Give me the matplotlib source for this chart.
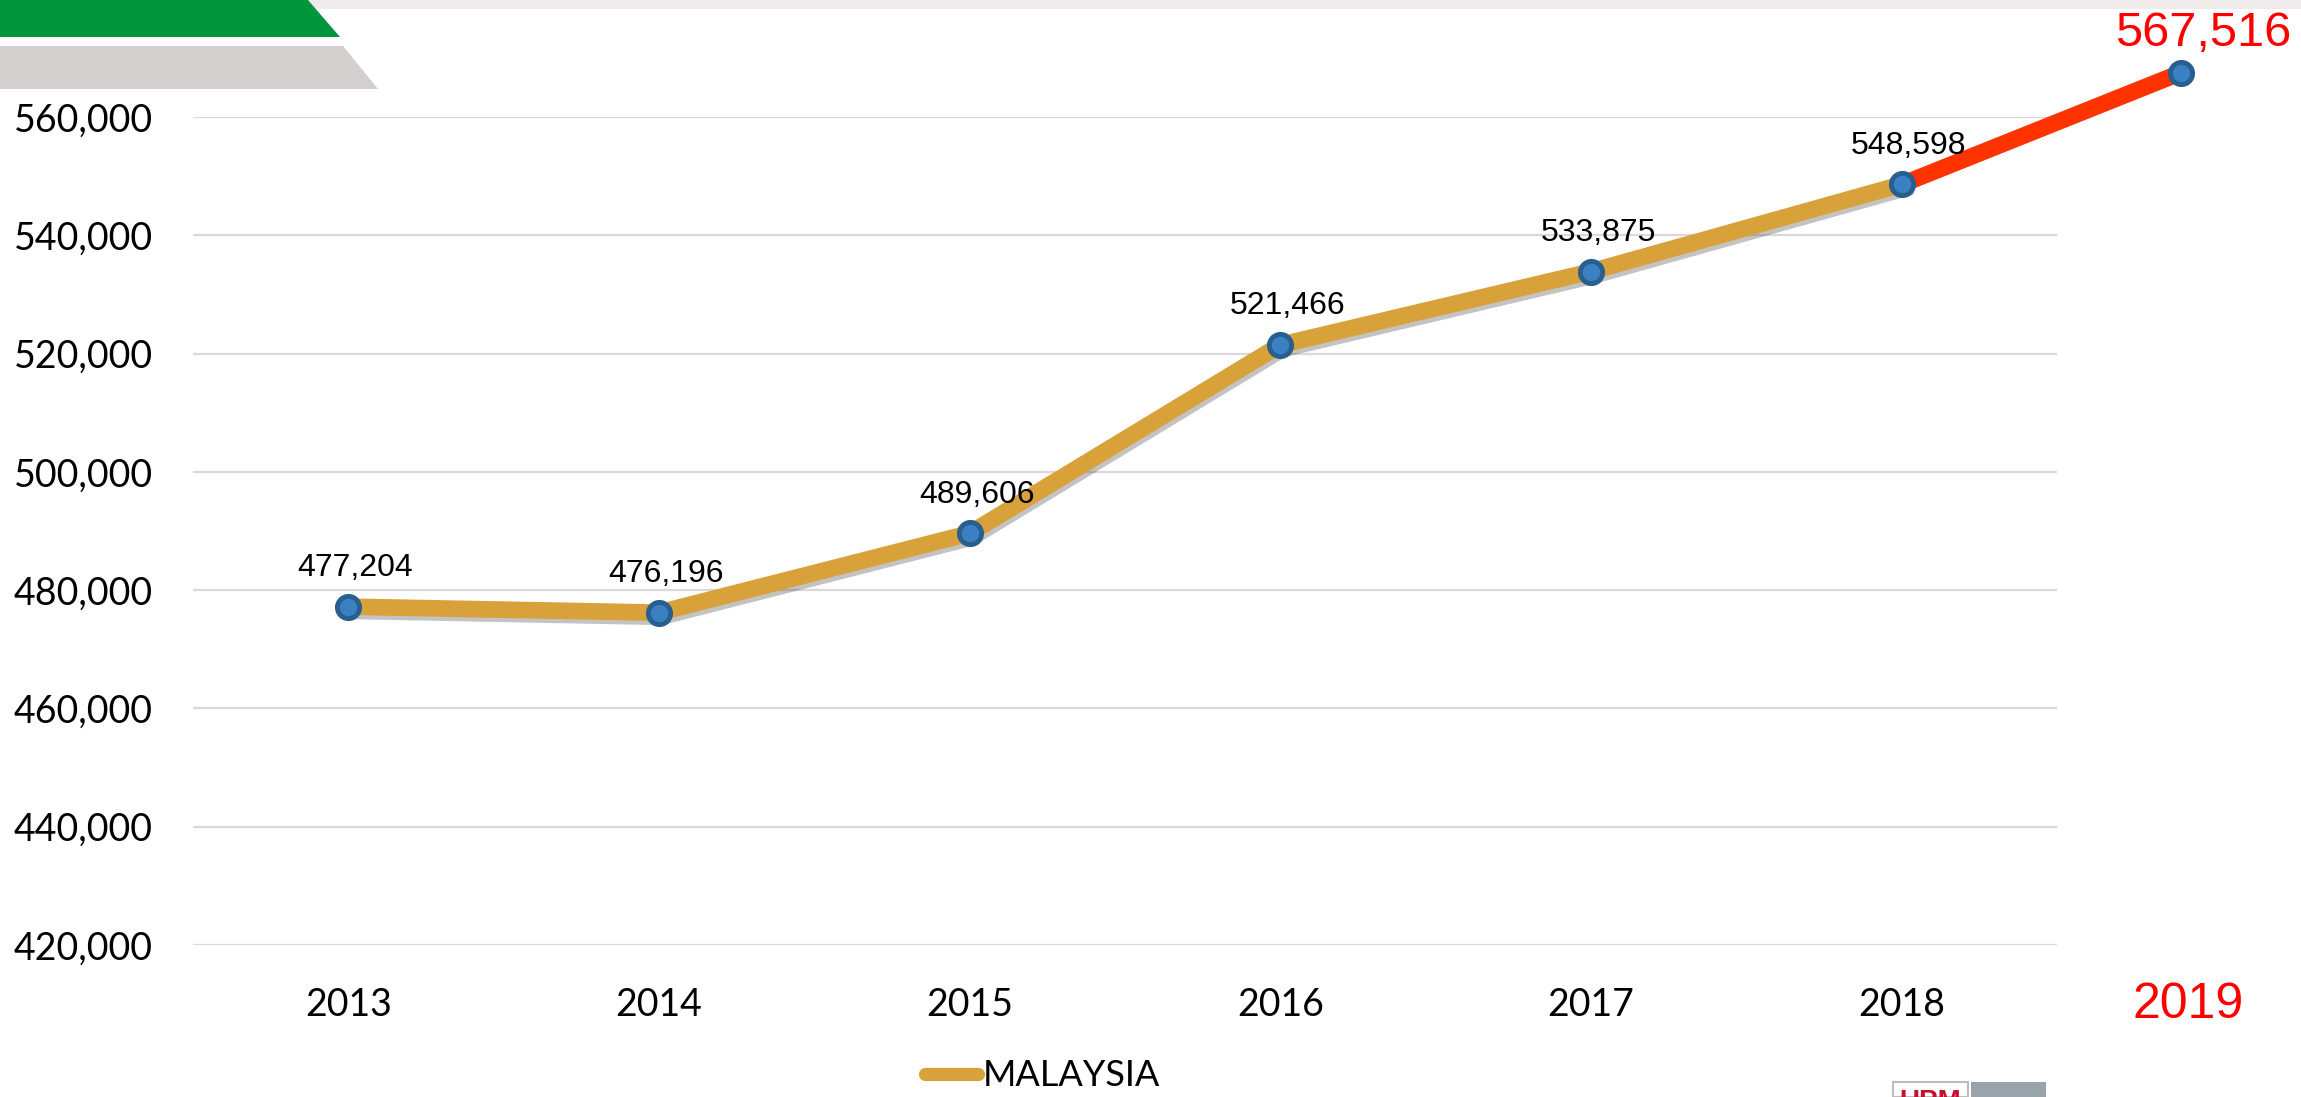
import matplotlib.pyplot as plt
import matplotlib.patheffects as pe
from matplotlib.lines import Line2D
from matplotlib.patches import Polygon, Rectangle

# data
years = ['2013', '2014', '2015', '2016', '2017', '2018']
values = [477204, 476196, 489606, 521466, 533875, 548598]
year_next = '2019'
value_next = 567516
yticks = [420000, 440000, 460000, 480000, 500000, 520000, 540000, 560000]
series_name = 'MALAYSIA'

W, H = 2301, 1097
gold = '#D9A13A'
red_line = '#FF3300'
blue_face = '#3A80C2'
blue_edge = '#285F8E'

fig = plt.figure(figsize=(W / 100, H / 100), dpi=100)
fig.patch.set_facecolor('white')

# plot area, pixel -> figure fraction
left, right, top, bottom = 193, 2057, 117, 945
ax = fig.add_axes([left / W, 1 - bottom / H, (right - left) / W, (bottom - top) / H])

xs = list(range(len(years)))
x_next = 5.9

ax.set_xlim(-0.5, len(years) - 0.5)
ax.set_ylim(yticks[0], yticks[-1])

# grid
for t in yticks:
    ax.axhline(t, color='#D9D9D9', lw=1.6, zorder=0)

for s in ax.spines.values():
    s.set_visible(False)

# main line with a soft shadow
ax.plot(xs, values, color=gold, lw=12, solid_joinstyle='miter', zorder=3,
        path_effects=[pe.SimpleLineShadow(offset=(1.5, -3), shadow_color='#555555', alpha=0.35),
                      pe.Normal()])

# 2019 extension in red
ax.plot([xs[-1], x_next], [values[-1], value_next], color=red_line, lw=12,
        solid_capstyle='butt', zorder=4, clip_on=False)

# markers
ax.plot(xs + [x_next], values + [value_next], ls='none', marker='o', ms=16,
        mfc=blue_face, mec=blue_edge, mew=3.5, zorder=5, clip_on=False)

# data labels
for x, v in zip(xs, values):
    ax.annotate(f'{v:,}', (x, v), xytext=(5, 22), textcoords='offset points',
                ha='center', va='baseline', fontsize=23, family='Liberation Sans',
                color='black', zorder=6)
ax.annotate(f'{value_next:,}', (x_next, value_next), xytext=(16, 19),
            textcoords='offset points', ha='center', va='baseline', fontsize=35,
            family='Liberation Sans', color='#FF0000', annotation_clip=False)

# ticks
ax.set_yticks(yticks)
ax.set_yticklabels([f'{t:,}' for t in yticks])
ax.set_xticks(xs)
ax.set_xticklabels(years)
ax.tick_params(axis='y', length=0, pad=29, labelsize=27)
ax.tick_params(axis='x', length=0, pad=30, labelsize=27)
for lab in ax.get_xticklabels() + ax.get_yticklabels():
    lab.set_family('Lato')

# 2019 category label in red, outside the axis
fig.text(2188 / W, 1 - 1005 / H, year_next, ha='center', va='center',
         fontsize=36, family='Liberation Sans', color='#FF0000')

# legend
handle = Line2D([], [], color=gold, lw=9.5, solid_capstyle='round')
ax.legend([handle], [series_name], loc='center', bbox_to_anchor=(1043 / W, 1 - 1076 / H),
          bbox_transform=fig.transFigure, frameon=False, handlelength=1.45,
          handletextpad=0.15, prop={'family': 'Lato', 'size': 26})

# header decoration
fig.add_artist(Rectangle((0, 1 - 9 / H), 1, 9 / H, transform=fig.transFigure,
                         facecolor='#EFEBEB', edgecolor='none'))
green = [(0, 0), (308, 0), (340, 37), (0, 37)]
fig.add_artist(Polygon([(x / W, 1 - y / H) for x, y in green], closed=True,
                       transform=fig.transFigure, facecolor='#00963C', edgecolor='none'))
grey = [(0, 46), (343, 46), (378, 89), (0, 89)]
fig.add_artist(Polygon([(x / W, 1 - y / H) for x, y in grey], closed=True,
                       transform=fig.transFigure, facecolor='#D4CFCF', edgecolor='none'))

# logo stub bottom right (cut by the page edge, as in the source)
fig.add_artist(Rectangle((1893 / W, 0), 75 / W, 15 / H, transform=fig.transFigure,
                         facecolor='white', edgecolor='#BDBDBD', lw=1.5))
fig.add_artist(Rectangle((1971 / W, 0), 75 / W, 15 / H, transform=fig.transFigure,
                         facecolor='#98A4A9', edgecolor='none'))
fig.text(1930 / W, 1 - 1089 / H, 'UPM', ha='center', va='top', fontsize=20,
         fontweight='bold', family='Liberation Sans', color='#C8102E')

fig.savefig('out.png', dpi=100)
